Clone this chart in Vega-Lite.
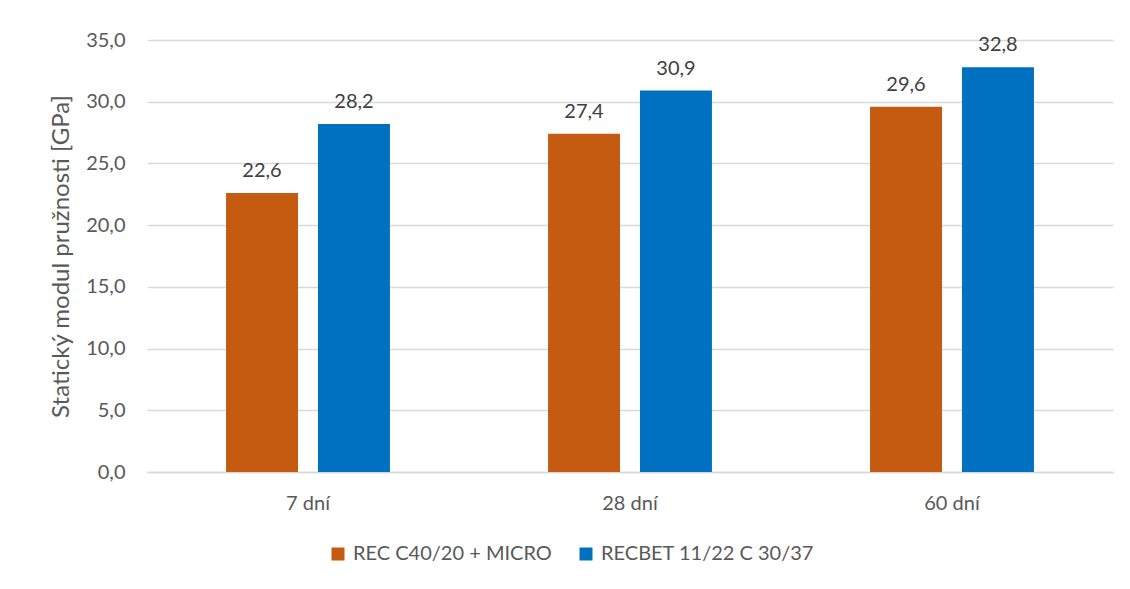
{
  "$schema": "https://vega.github.io/schema/vega-lite/v6.json",
  "width": 966,
  "height": 432,
  "autosize": "none",
  "padding": {"left": 147, "top": 40, "right": 17, "bottom": 117},
  "background": "white",
  "config": {
    "locale": {"number": {"decimal": ",", "thousands": " ", "grouping": [3], "currency": ["", " Kč"]}},
    "font": "Lato",
    "view": {"stroke": null},
    "axis": {"labelFont": "Lato", "titleFont": "Lato"}
  },
  "data": {
    "values": [
      {"doba": "7 dní", "serie": "REC C40/20 + MICRO", "hodnota": 22.6},
      {"doba": "7 dní", "serie": "RECBET 11/22 C 30/37", "hodnota": 28.2},
      {"doba": "28 dní", "serie": "REC C40/20 + MICRO", "hodnota": 27.4},
      {"doba": "28 dní", "serie": "RECBET 11/22 C 30/37", "hodnota": 30.9},
      {"doba": "60 dní", "serie": "REC C40/20 + MICRO", "hodnota": 29.6},
      {"doba": "60 dní", "serie": "RECBET 11/22 C 30/37", "hodnota": 32.8}
    ]
  },
  "encoding": {
    "x": {
      "field": "doba", "type": "nominal", "sort": ["7 dní", "28 dní", "60 dní"],
      "scale": {"paddingInner": 0.491, "paddingOuter": 0.2455},
      "axis": {"title": null, "labelAngle": 0, "labelFontSize": 20, "labelColor": "#595959", "ticks": false, "domainColor": "#D9D9D9", "domainWidth": 1.5, "labelPadding": 21}
    },
    "xOffset": {
      "field": "serie", "type": "nominal",
      "scale": {"paddingInner": 0.217, "paddingOuter": 0}
    },
    "y": {
      "field": "hodnota", "type": "quantitative",
      "scale": {"domain": [0, 35], "nice": false},
      "axis": {"title": "Statický modul pružnosti [GPa]", "titleFontSize": 24, "titleFontWeight": "normal", "titleColor": "#595959", "titlePadding": 12,
        "values": [0, 5, 10, 15, 20, 25, 30, 35], "format": ".1f",
        "labelFontSize": 20, "labelColor": "#595959", "labelPadding": 22, "ticks": false, "domain": false,
        "gridColor": "#D9D9D9", "gridWidth": 1.5}
    }
  },
  "layer": [
    {
      "mark": {"type": "bar"},
      "encoding": {
        "color": {
          "field": "serie", "type": "nominal",
          "scale": {"domain": ["REC C40/20 + MICRO", "RECBET 11/22 C 30/37"], "range": ["#C55A11", "#0070C0"]},
          "legend": {"title": null, "orient": "none", "direction": "horizontal", "legendX": 181, "legendY": 504,
            "symbolType": "square", "symbolSize": 169, "symbolStrokeWidth": 0, "labelFontSize": 20, "labelColor": "#595959",
            "labelOffset": 5, "columnPadding": 24, "labelLimit": 400}
        }
      }
    },
    {
      "mark": {"type": "text", "baseline": "bottom", "dy": -12, "fontSize": 20, "color": "#404040"},
      "encoding": {
        "text": {"field": "hodnota", "type": "quantitative", "format": ".1f"}
      }
    }
  ]
}
